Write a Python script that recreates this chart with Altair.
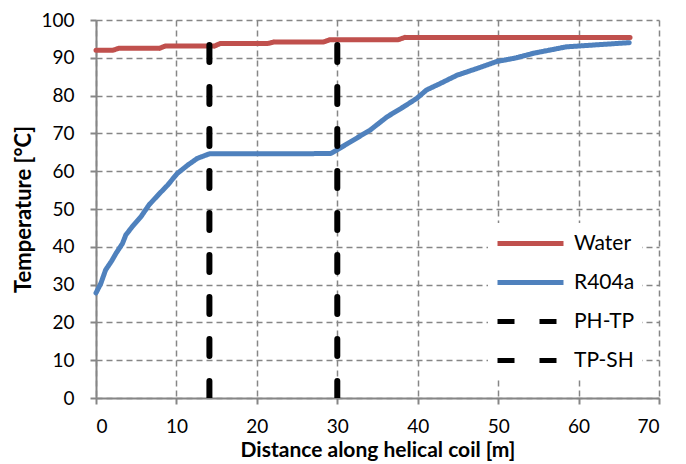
import altair as alt
import pandas as pd

# Water temperature along the coil
water_x = [0, 2.1, 2.8, 7.9, 8.6, 14.7, 15.5, 21.4, 22.2, 28.3, 29.1, 37.6, 38.4, 66.4]
water_y = [92.0, 92.0, 92.5, 92.5, 93.1, 93.1, 93.8, 93.8, 94.2, 94.2, 94.8, 94.8, 95.4, 95.4]

# R404a temperature along the coil
r404_x = [0, 0.6, 1.2, 1.9, 2.5, 3.3, 3.7, 4.5, 5.6, 6.6, 7.9, 8.9, 10.1, 11.4, 12.6, 14.1,
          20.0, 25.0, 29.2, 31.2, 34.1, 36.2, 38.3, 39.9, 41.1, 42.8, 44.9, 47.4, 49.8,
          52.3, 54.4, 58.5, 62.7, 66.3]
r404_y = [27.8, 30.3, 33.9, 36.1, 38.3, 40.9, 43.1, 45.3, 48.0, 51.1, 54.1, 56.3, 59.4, 61.6,
          63.4, 64.6, 64.6, 64.6, 64.7, 67.2, 70.9, 74.4, 77.1, 79.3, 81.5, 83.2, 85.4, 87.2,
          89.0, 90.0, 91.2, 92.9, 93.5, 94.0]

# Zone boundaries (vertical dashed lines)
boundary_names = ["PH-TP", "TP-SH"]
boundary_x = [14.1, 30.0]

series = ["Water", "R404a", "PH-TP", "TP-SH"]
colors = ["#C0504D", "#4F81BD", "#000000", "#000000"]
dashes = [[1, 0], [1, 0], [17, 25], [17, 25]]

rows = []
for i, (x, y) in enumerate(zip(water_x, water_y)):
    rows.append({"series": "Water", "x": x, "y": y, "o": i})
for i, (x, y) in enumerate(zip(r404_x, r404_y)):
    rows.append({"series": "R404a", "x": x, "y": y, "o": i})
curves = pd.DataFrame(rows)

vrows = []
for n, bx in zip(boundary_names, boundary_x):
    vrows.append({"series": n, "x": bx, "y": 0, "o": 0})
    vrows.append({"series": n, "x": bx, "y": 100, "o": 1})
verts = pd.DataFrame(vrows)

FONT = "Lato"
GRID = "#868686"

common_axis = dict(
    grid=True, gridColor=GRID, gridDash=[6, 4], gridWidth=1.5, gridOpacity=1,
    domainColor=GRID, domainWidth=2,
    ticks=True, tickColor=GRID, tickWidth=2, tickSize=6,
    labelFont=FONT, labelFontSize=19, labelColor="#000000",
    titleFont=FONT, titleFontWeight="bold", titleColor="#000000",
)

xenc = alt.X("x:Q", scale=alt.Scale(domain=[0, 70], nice=False),
             axis=alt.Axis(values=list(range(0, 71, 10)), title="Distance along helical coil [m]",
                           labelPadding=13, titlePadding=3, titleFontSize=21, **common_axis))
yenc = alt.Y("y:Q", scale=alt.Scale(domain=[0, 100], nice=False),
             axis=alt.Axis(values=list(range(0, 101, 10)), title="Temperature [°C]",
                           labelPadding=16, titlePadding=5, titleFontSize=22, **common_axis))
legend = alt.Legend(
    title=None, orient="none", legendX=392, legendY=203,
    fillColor="#FFFFFF", padding=7,
    symbolType="M-1,0H5", symbolSize=484, symbolStrokeWidth=5,
    labelFont=FONT, labelFontSize=21, labelColor="#000000",
    labelOffset=52, rowPadding=15,
)
color = alt.Color("series:N", scale=alt.Scale(domain=series, range=colors), legend=legend)
dash = alt.StrokeDash("series:N", scale=alt.Scale(domain=series, range=dashes), legend=legend)

lines = alt.Chart(curves).mark_line(strokeWidth=5, strokeCap="round", strokeJoin="round").encode(
    x=xenc, y=yenc, color=color, strokeDash=dash, order="o:Q"
)
vlines = alt.Chart(verts).mark_line(strokeWidth=6, strokeCap="round", clip=True).encode(
    x=xenc, y=yenc, color=color, strokeDash=dash, order="o:Q"
)

chart = alt.layer(lines, vlines).properties(
    width=563, height=378,
    autosize=alt.AutoSizeParams(type="none"),
    padding={"left": 88, "top": 12, "right": 10, "bottom": 80},
).configure_view(stroke=None)

chart.save("out.html", embed_options={"renderer": "svg", "actions": False})
